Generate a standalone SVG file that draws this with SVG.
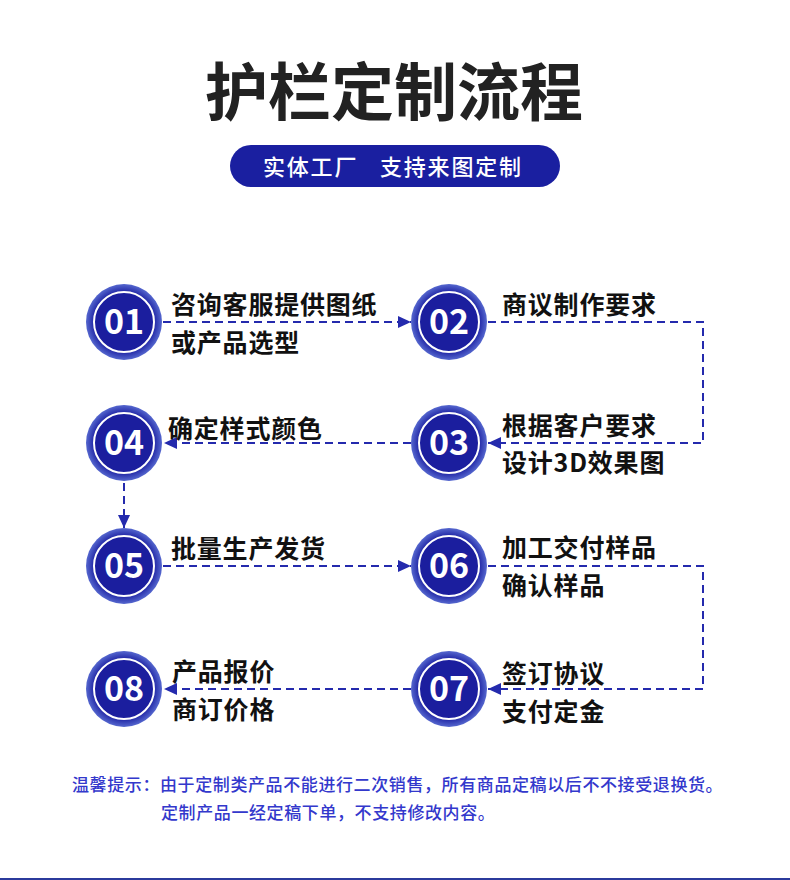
<svg xmlns="http://www.w3.org/2000/svg" width="790" height="880" viewBox="0 0 790 880">
<defs>
<radialGradient id="ring" cx="50%" cy="50%" r="50%">
<stop offset="0" stop-color="#1b1e9e"/>
<stop offset="0.78" stop-color="#1e23a3"/>
<stop offset="1" stop-color="#5668cf"/>
</radialGradient>
<marker id="arr" markerUnits="userSpaceOnUse" markerWidth="14" markerHeight="14" refX="13" refY="7" orient="auto">
<path d="M0,1 L13,7 L0,13 z" fill="#242aad"/>
</marker>
<style>
.title{font-family:"Noto Sans CJK SC","Noto Sans",sans-serif;font-weight:700;font-size:63px;fill:#222;}
.sub{font-family:"Noto Sans CJK SC","Noto Sans",sans-serif;font-weight:500;font-size:22px;fill:#fff;letter-spacing:1.8px;}
.lbl{font-family:"Noto Sans CJK SC","Noto Sans",sans-serif;font-weight:700;font-size:25px;fill:#111;letter-spacing:0.8px;}
.num{font-family:"Noto Sans CJK SC","Noto Sans",sans-serif;font-weight:700;font-size:34px;fill:#fff;text-anchor:middle;}
.note{font-family:"Noto Sans CJK SC","Noto Sans",sans-serif;font-weight:500;font-size:17px;fill:#3338cc;letter-spacing:0.6px;}
.outer{fill:url(#ring);}
.inner{fill:#1b1e9e;stroke:#fff;stroke-width:2;}
.con{fill:none;stroke:#242aad;stroke-width:2;stroke-dasharray:8 5;}
</style>
</defs>
<rect width="790" height="880" fill="#fff"/>
<text class="title" x="394" y="115" text-anchor="middle">护栏定制流程</text>
<g id="subtitle">
<rect x="230" y="145" width="330" height="42" rx="21" fill="#1a1fa0"/>
<text class="sub" x="263" y="175">实体工厂</text>
<text class="sub" x="380" y="175">支持来图定制</text>
</g>
<g id="connectors">
<path class="con" d="M163,322 H411" marker-end="url(#arr)"/>
<path class="con" d="M488,322 H703 V443 H488" marker-end="url(#arr)"/>
<path class="con" d="M411,443 H164" marker-end="url(#arr)"/>
<path class="con" d="M124,483 V528" marker-end="url(#arr)"/>
<path class="con" d="M163,566 H411" marker-end="url(#arr)"/>
<path class="con" d="M488,566 H703 V689 H488" marker-end="url(#arr)"/>
<path class="con" d="M411,689 H164" marker-end="url(#arr)"/>
</g>
<g id="step01">
<circle class="outer" cx="124" cy="322" r="38"/><circle class="inner" cx="124" cy="322" r="30"/>
<text class="num" x="124" y="334">01</text>
<text class="lbl" x="171" y="314">咨询客服提供图纸</text>
<text class="lbl" x="171" y="352">或产品选型</text>
</g>
<g id="step02">
<circle class="outer" cx="449" cy="322" r="38"/><circle class="inner" cx="449" cy="322" r="30"/>
<text class="num" x="449" y="334">02</text>
<text class="lbl" x="502" y="314">商议制作要求</text>
</g>
<g id="step03">
<circle class="outer" cx="449" cy="443" r="38"/><circle class="inner" cx="449" cy="443" r="30"/>
<text class="num" x="449" y="455">03</text>
<text class="lbl" x="502" y="435">根据客户要求</text>
<text class="lbl" x="502" y="472">设计3D效果图</text>
</g>
<g id="step04">
<circle class="outer" cx="124" cy="443" r="38"/><circle class="inner" cx="124" cy="443" r="30"/>
<text class="num" x="124" y="455">04</text>
<text class="lbl" x="168" y="438">确定样式颜色</text>
</g>
<g id="step05">
<circle class="outer" cx="124" cy="566" r="38"/><circle class="inner" cx="124" cy="566" r="30"/>
<text class="num" x="124" y="578">05</text>
<text class="lbl" x="171" y="558">批量生产发货</text>
</g>
<g id="step06">
<circle class="outer" cx="449" cy="566" r="38"/><circle class="inner" cx="449" cy="566" r="30"/>
<text class="num" x="449" y="578">06</text>
<text class="lbl" x="502" y="557">加工交付样品</text>
<text class="lbl" x="502" y="595">确认样品</text>
</g>
<g id="step07">
<circle class="outer" cx="449" cy="689" r="38"/><circle class="inner" cx="449" cy="689" r="30"/>
<text class="num" x="449" y="701">07</text>
<text class="lbl" x="502" y="683">签订协议</text>
<text class="lbl" x="502" y="721">支付定金</text>
</g>
<g id="step08">
<circle class="outer" cx="124" cy="689" r="38"/><circle class="inner" cx="124" cy="689" r="30"/>
<text class="num" x="124" y="701">08</text>
<text class="lbl" x="172" y="681">产品报价</text>
<text class="lbl" x="172" y="719">商订价格</text>
</g>
<g id="note">
<text class="note" x="72" y="791">温馨提示：由于定制类产品不能进行二次销售，所有商品定稿以后不不接受退换货。</text>
<text class="note" x="161" y="819">定制产品一经定稿下单，不支持修改内容。</text>
</g>
<rect x="0" y="878" width="790" height="2" fill="#2b3a9c"/>
</svg>
